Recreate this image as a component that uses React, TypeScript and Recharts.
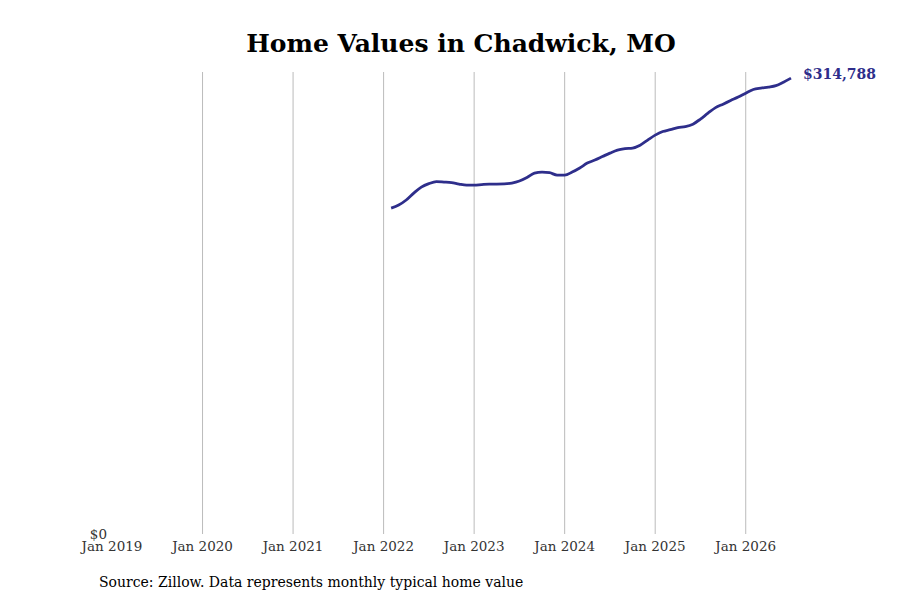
import React from "react";
import {
  LineChart,
  Line,
  XAxis,
  YAxis,
  ReferenceLine,
  LabelList,
} from "recharts";

// months counted from Jan 2019 (0)
const startMonth = 37; // Feb 2022

const homeValues = [
  // 2022 (Feb-Dec)
  225000, 227100, 230600, 235400, 239500, 241900, 243300, 243000, 242600, 241600, 240900,
  // 2023
  240900, 241300, 241600, 241600, 241700, 242300, 243700, 246100, 249200, 249900, 249500, 247800,
  // 2024
  247800, 249900, 252700, 256100, 258200, 260600, 263000, 265100, 266100, 266500, 268500, 272000,
  // 2025
  275400, 277900, 279200, 280600, 281300, 283000, 286500, 290600, 294400, 296800, 299300, 301700,
  // 2026 (Jan-Jul)
  304400, 306900, 307900, 308600, 309600, 312000, 314788,
];

const yearTicks = [0, 12, 24, 36, 48, 60, 72, 84];
const yearLabels = [
  "Jan 2019",
  "Jan 2020",
  "Jan 2021",
  "Jan 2022",
  "Jan 2023",
  "Jan 2024",
  "Jan 2025",
  "Jan 2026",
];

const data = homeValues.map((value, i) => ({ month: startMonth + i, value }));

const FONT = "'DejaVu Serif', serif";
const LINE_COLOR = "#2e2e8b";

function lastValueLabel(props: any) {
  const { x, y, index, value } = props;
  if (index !== data.length - 1) return null;
  return (
    <text
      x={Number(x) + 12}
      y={Number(y) - 4}
      fill={LINE_COLOR}
      fontSize={14}
      fontWeight="bold"
      fontFamily={FONT}
      dominantBaseline="central"
    >
      ${Number(value).toLocaleString("en-US")}
    </text>
  );
}

export default function App() {
  return (
    <div
      style={{
        position: "absolute",
        left: 0,
        top: 0,
        width: 900,
        height: 600,
        background: "#fff",
        fontFamily: FONT,
      }}
    >
      <div
        style={{
          position: "absolute",
          left: 0,
          width: 922,
          top: 29,
          textAlign: "center",
          fontSize: 25,
          fontWeight: "bold",
          color: "#000",
        }}
      >
        Home Values in Chadwick, MO
      </div>
      <LineChart
        width={900}
        height={600}
        data={data}
        margin={{ top: 72, right: 109, bottom: 36, left: 72 }}
      >
        {yearTicks.slice(1).map((t) => (
          <ReferenceLine key={t} x={t} stroke="#bbbbbb" strokeWidth={1} />
        ))}
        <XAxis
          dataKey="month"
          type="number"
          domain={[0, 90]}
          ticks={yearTicks}
          tickFormatter={(t) => yearLabels[yearTicks.indexOf(t)]}
          axisLine={false}
          tickLine={false}
          tickSize={0}
          tickMargin={7}
          height={30}
          interval={0}
          tick={{ fill: "#333", fontSize: 13.5, fontFamily: FONT }}
        />
        <YAxis
          type="number"
          domain={[0, 319000]}
          ticks={[0]}
          tickFormatter={(v) => `$${v}`}
          axisLine={false}
          tickLine={false}
          tickSize={0}
          tickMargin={5}
          width={40}
          tick={{ fill: "#333", fontSize: 13.5, fontFamily: FONT }}
        />
        <Line
          type="monotone"
          dataKey="value"
          stroke={LINE_COLOR}
          strokeWidth={2.8}
          dot={false}
          isAnimationActive={false}
        >
          <LabelList dataKey="value" content={lastValueLabel} />
        </Line>
      </LineChart>
      <div
        style={{
          position: "absolute",
          left: 99,
          top: 574,
          fontSize: 14,
          color: "#000",
        }}
      >
        Source: Zillow. Data represents monthly typical home value
      </div>
    </div>
  );
}
